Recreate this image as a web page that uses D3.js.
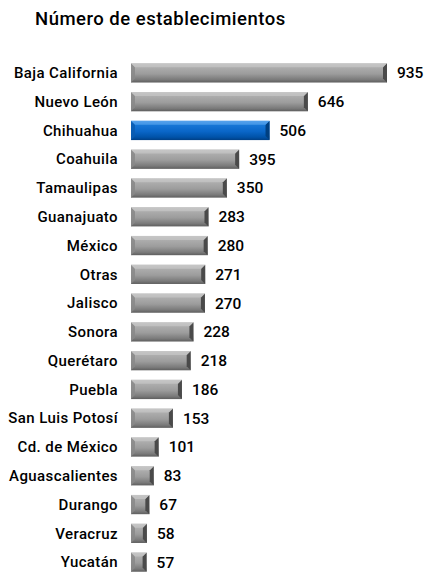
<!DOCTYPE html>
<html>
<head>
<meta charset="utf-8">
<script src="https://cdn.jsdelivr.net/npm/d3@7"></script>
<style>
  body { margin: 0; background: #fff; }
  text { font-family: Roboto, 'Liberation Sans', Arial, sans-serif; fill: #000; }
</style>
</head>
<body>
<div class="chart"></div>
<script>
'use strict';

const states = ['Baja California', 'Nuevo León', 'Chihuahua', 'Coahuila', 'Tamaulipas',
  'Guanajuato', 'México', 'Otras', 'Jalisco', 'Sonora', 'Querétaro', 'Puebla',
  'San Luis Potosí', 'Cd. de México', 'Aguascalientes', 'Durango', 'Veracruz', 'Yucatán'];
const counts = [935, 646, 506, 395, 350, 283, 280, 271, 270, 228, 218, 186, 153, 101, 83, 67, 58, 57];
const highlight = 'Chihuahua';

const WIDTH = 425;
const HEIGHT = 573;

const data = states.map((s, i) => ({state: s, value: counts[i]}));

const svg = d3.select('.chart')
  .append('svg')
    .attr('width', WIDTH)
    .attr('height', HEIGHT);

const defs = svg.append('defs');

function gradient(id, stops) {
  const g = defs.append('linearGradient')
    .attr('id', id)
    .attr('x1', 0).attr('y1', 0).attr('x2', 0).attr('y2', 1);
  stops.forEach(([o, c]) => g.append('stop').attr('offset', o).attr('stop-color', c));
}
gradient('gray', [[0, '#c4c4c4'], [0.15, '#b0b0b0'], [0.55, '#9c9c9c'], [0.85, '#7a7a7a'], [1, '#5e5e5e']]);
gradient('blue', [[0, '#4f9be6'], [0.15, '#1a7ad9'], [0.55, '#0a66c8'], [0.85, '#0052a8'], [1, '#003f85']]);

svg.append('text')
  .attr('x', 35)
  .attr('y', 25)
  .style('font-size', '18.5px')
  .style('font-weight', 500)
  .style('letter-spacing', '0.5px')
  .text('Número de establecimientos');

const x = d3.scaleLinear()
  .domain([0, 935])
  .range([131, 387]);

const y = d3.scaleBand()
  .domain(states)
  .range([58.5, 576.5])
  .paddingInner(0.33)
  .paddingOuter(0.165);

const row = svg.append('g')
  .selectAll('g')
  .data(data)
  .enter().append('g');

row.append('text')
  .attr('x', 118)
  .attr('y', d => y(d.state) + y.bandwidth() / 2)
  .attr('dy', '0.35em')
  .attr('text-anchor', 'end')
  .style('font-size', '15px')
  .style('font-weight', 500)
  .style('letter-spacing', '0.4px')
  .text(d => d.state);

row.append('rect')
  .attr('x', x(0))
  .attr('y', d => y(d.state))
  .attr('width', d => x(d.value) - x(0))
  .attr('height', y.bandwidth())
  .attr('fill', d => d.state === highlight ? 'url(#blue)' : 'url(#gray)');

// bevelled ends
const bev = 4;
row.append('polygon')
  .attr('points', d => {
    const x0 = x(0), y0 = y(d.state), h = y.bandwidth();
    return [[x0, y0], [x0 + bev, y0 + bev], [x0 + bev, y0 + h - bev], [x0, y0 + h]].join(' ');
  })
  .attr('fill', d => d.state === highlight ? '#0a5cb0' : '#888')
  .attr('opacity', 0.85);

row.append('polygon')
  .attr('points', d => {
    const x1 = x(d.value), y0 = y(d.state), h = y.bandwidth();
    return [[x1, y0], [x1 - bev, y0 + bev], [x1 - bev, y0 + h - bev], [x1, y0 + h]].join(' ');
  })
  .attr('fill', d => d.state === highlight ? '#003f80' : '#4a4a4a');

row.append('polygon')
  .attr('points', d => {
    const x0 = x(0), x1 = x(d.value), y0 = y(d.state);
    return [[x0, y0], [x1, y0], [x1 - bev, y0 + bev], [x0 + bev, y0 + bev]].join(' ');
  })
  .attr('fill', d => d.state === highlight ? '#5aa5ee' : '#c8c8c8')
  .attr('opacity', 0.7);

row.append('text')
  .attr('x', d => x(d.value) + 10)
  .attr('y', d => y(d.state) + y.bandwidth() / 2)
  .attr('dy', '0.35em')
  .style('font-size', '15.5px')
  .style('font-weight', 500)
  .text(d => d.value);
</script>
</body>
</html>
